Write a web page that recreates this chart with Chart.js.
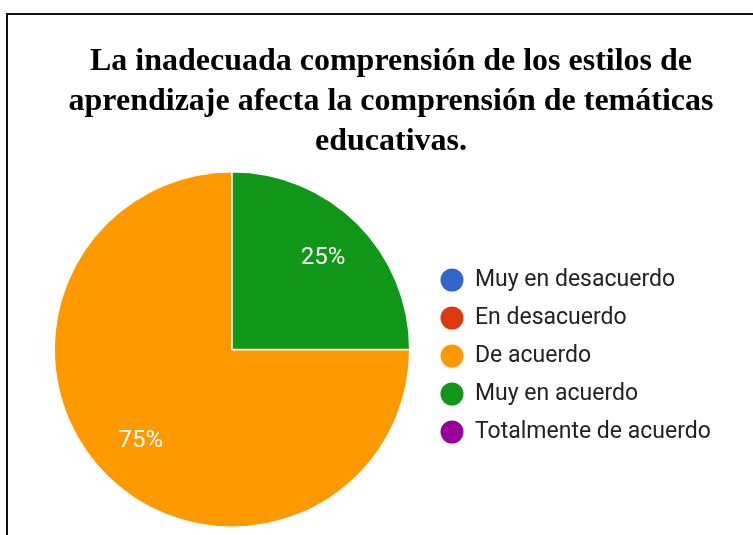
<!DOCTYPE html>
<html>
<head>
<meta charset="utf-8">
<script src="https://cdn.jsdelivr.net/npm/chart.js@4/dist/chart.umd.min.js"></script>
<style>
html, body { margin: 0; padding: 0; background: #fff; }
#wrap { position: relative; width: 753px; height: 535px; overflow: hidden; background: #fff; }
#frame { position: absolute; left: 6px; top: 13px; width: 800px; height: 600px; border-left: 2px solid #111; border-top: 2px solid #111; }
#c { position: absolute; left: 0; top: 0; }
</style>
</head>
<body>
<div id="wrap">
  <div id="frame"></div>
  <canvas id="c" width="753" height="535"></canvas>
</div>
<script>
const titleLines = [
  'La inadecuada comprensión de los estilos de',
  'aprendizaje afecta la comprensión de temáticas',
  'educativas.'
];
const categories = ['Muy en desacuerdo', 'En desacuerdo', 'De acuerdo', 'Muy en acuerdo', 'Totalmente de acuerdo'];
const percentages = [0, 0, 75, 25, 0];
const sliceColors = ['#3366cc', '#dc3912', '#ff9900', '#109618', '#990099'];

const LEGEND_WIDTH = 318;

const legendWidthPlugin = {
  id: 'legendWidth',
  afterInit(chart) {
    const lg = chart.legend;
    if (lg && !lg.__patched) {
      const origFit = lg.fit;
      lg.fit = function () {
        origFit.call(this);
        this.width = LEGEND_WIDTH;
      };
      lg.__patched = true;
    }
  }
};

const sliceLabelPlugin = {
  id: 'sliceLabels',
  afterDatasetsDraw(chart) {
    const meta = chart.getDatasetMeta(0);
    const ctx = chart.ctx;
    ctx.save();
    ctx.font = '24px Roboto';
    ctx.fillStyle = '#ffffff';
    ctx.textAlign = 'center';
    ctx.textBaseline = 'middle';
    meta.data.forEach((arc, i) => {
      const v = percentages[i];
      if (!v) return;
      const p = arc.getProps(['x', 'y', 'startAngle', 'endAngle', 'outerRadius'], true);
      const mid = (p.startAngle + p.endAngle) / 2;
      const r = p.outerRadius * 0.725;
      ctx.fillText(v + '%', p.x + Math.cos(mid) * r, p.y + Math.sin(mid) * r);
    });
    ctx.restore();
  }
};

Chart.defaults.font.family = 'Roboto, "Liberation Sans", Arial, sans-serif';

new Chart(document.getElementById('c'), {
  type: 'pie',
  data: {
    labels: categories,
    datasets: [{
      data: percentages,
      backgroundColor: sliceColors,
      borderColor: '#ffffff',
      borderWidth: 1.5
    }]
  },
  options: {
    responsive: false,
    animation: false,
    rotation: 90,
    layout: { padding: { top: 42, left: 38.5, right: 9.5, bottom: 7 } },
    plugins: {
      tooltip: { enabled: false },
      title: {
        display: true,
        text: titleLines,
        color: '#000000',
        font: { family: '"Liberation Serif", "Times New Roman", serif', size: 32, weight: 'bold', lineHeight: '40px' },
        padding: { top: 0, bottom: 9 }
      },
      legend: {
        display: true,
        position: 'right',
        fullSize: false,
        align: 'center',
        title: { display: true, text: '', padding: 0, font: { size: 13, lineHeight: 1 } },
        labels: {
          usePointStyle: true,
          pointStyle: 'circle',
          pointStyleWidth: 23,
          boxHeight: 16.26,
          padding: 15,
          color: '#222222',
          font: { family: 'Roboto', size: 23 },
          generateLabels(chart) {
            const base = Chart.overrides.pie.plugins.legend.labels.generateLabels(chart);
            return base.map(item => Object.assign(item, { lineWidth: 0, strokeStyle: item.fillStyle, hidden: false }));
          }
        }
      }
    }
  },
  plugins: [legendWidthPlugin, sliceLabelPlugin]
});
</script>
</body>
</html>
